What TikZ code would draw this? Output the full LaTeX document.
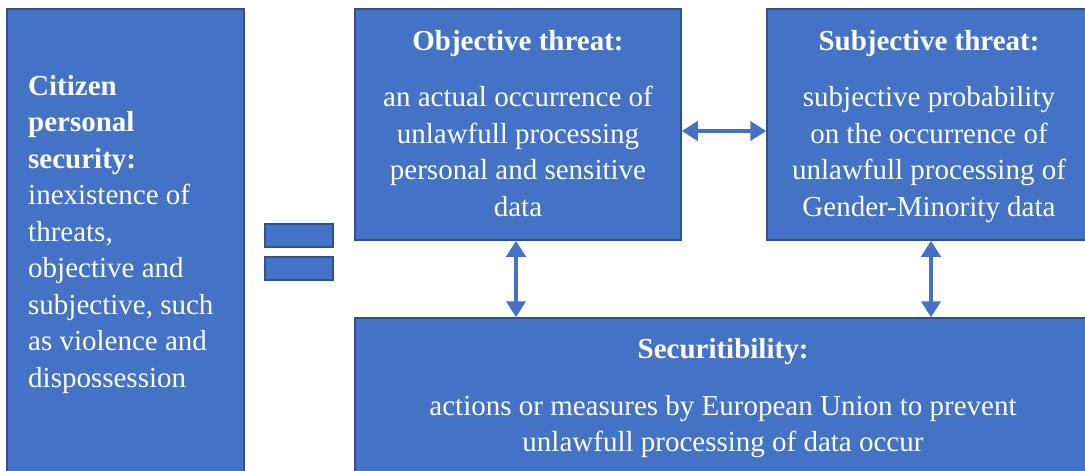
\documentclass[tikz,border=0pt]{standalone}
\usepackage{fontspec}
\setmainfont{Liberation Serif}
\usetikzlibrary{arrows.meta,fit}
\definecolor{boxfill}{HTML}{4472C4}
\definecolor{boxline}{HTML}{2F528F}
\tikzset{
  panel/.style={draw=boxline, line width=1.5pt, fill=boxfill, inner sep=0pt, rectangle},
  label/.style={text=white, inner sep=0pt, font=\fontsize{29}{36.5}\selectfont},
  link/.style={draw=boxfill, line width=4.5pt,
    {Triangle[length=16pt,width=19pt]}-{Triangle[length=16pt,width=19pt]}}
}
\begin{document}
\begin{tikzpicture}[x=1pt,y=-1pt]
\clip (0,0) rectangle (1085,471);
\fill[white] (0,0) rectangle (1085,471);

% panels
\node[panel, fit={(7,9) (244,490)}] (cit) {};
\node[panel, fit={(355,9) (681,240)}] (obj) {};
\node[panel, fit={(767,9) (1095,240)}] (subj) {};
\node[panel, fit={(355,318) (1095,490)}] (sec) {};
\node[panel, fit={(265,224) (333,247)}] (eqa) {};
\node[panel, fit={(265,257) (333,280)}] (eqb) {};

% texts (multi-line nodes are anchored on the baseline of their last line)
\node[label, anchor=base west, align=left] (cittext) at (28,387)
  {\textbf{Citizen}\\\textbf{personal}\\\textbf{security:}\\inexistence of\\threats,\\objective and\\subjective, such\\as violence and\\dispossession};
\node[label, anchor=base, font=\fontsize{29}{36.5}\selectfont\bfseries] (objtitle) at (518,50) {Objective threat:};
\node[label, anchor=base, align=center] (objtext) at (518,216)
  {an actual occurrence of\\unlawfull processing\\personal and sensitive\\data};
\node[label, anchor=base, font=\fontsize{29}{36.5}\selectfont\bfseries] (subjtitle) at (929,50) {Subjective threat:};
\node[label, anchor=base, align=center] (subjtext) at (929,216)
  {subjective probability\\on the occurrence of\\unlawfull processing of\\Gender-Minority data};
\node[label, anchor=base, font=\fontsize{29}{36.5}\selectfont\bfseries] (sectitle) at (723,358) {Securitibility:};
\node[label, anchor=base, align=center] (sectext) at (723,451.5)
  {actions or measures by European Union to prevent\\unlawfull processing of data occur};

% connectors
\draw[link] (obj.east |- 0,131) -- (subj.west |- 0,131);
\draw[link] (obj.south -| 516,0) -- (sec.north -| 516,0);
\draw[link] (subj.south -| 931,0) -- (sec.north -| 931,0);
\end{tikzpicture}
\end{document}
